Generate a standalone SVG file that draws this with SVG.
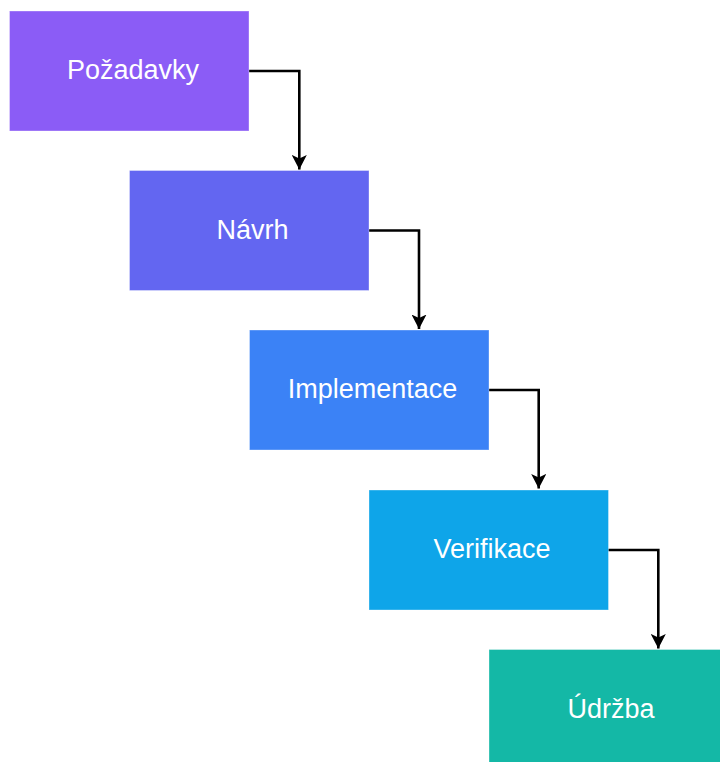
<svg xmlns="http://www.w3.org/2000/svg" width="720" height="762" viewBox="0 0 720 762">
  <style>
    .box { stroke: #ffffff; stroke-opacity: 0.35; stroke-width: 1; }
    .lbl { font-family: "Liberation Sans", Arial, Helvetica, sans-serif; font-size: 27px; fill: #ffffff; text-anchor: middle; }
    .conn { fill: none; stroke: #000000; stroke-width: 2.6; }
  </style>
  <defs>
    <marker id="arr" viewBox="0 0 15 15" refX="14.5" refY="7.5" markerWidth="15" markerHeight="15" markerUnits="userSpaceOnUse" orient="auto">
      <path d="M0,0 L14.5,7.5 L0,15 L3.5,7.5 Z" fill="#000000"/>
    </marker>
  </defs>
  <rect width="720" height="762" fill="#ffffff"/>
  <g id="connectors">
    <path class="conn" d="M249,71 H299.3 V169.5" marker-end="url(#arr)"/>
    <path class="conn" d="M369,230.5 H419 V329" marker-end="url(#arr)"/>
    <path class="conn" d="M488.5,390 H538.7 V488.5" marker-end="url(#arr)"/>
    <path class="conn" d="M608,550 H658.3 V648.5" marker-end="url(#arr)"/>
  </g>
  <g id="pozadavky">
    <rect class="box" x="9.5" y="11" width="239.5" height="120" fill="#8B5CF6"/>
    <text class="lbl" x="133" y="79">Požadavky</text>
  </g>
  <g id="navrh">
    <rect class="box" x="129.5" y="170.5" width="239.5" height="120" fill="#6366F1"/>
    <text class="lbl" x="252.5" y="238.5">Návrh</text>
  </g>
  <g id="implementace">
    <rect class="box" x="249.5" y="330" width="239.5" height="120" fill="#3B82F6"/>
    <text class="lbl" x="372.5" y="398">Implementace</text>
  </g>
  <g id="verifikace">
    <rect class="box" x="369" y="490" width="239.5" height="120" fill="#0EA5E9"/>
    <text class="lbl" x="492" y="558">Verifikace</text>
  </g>
  <g id="udrzba">
    <rect class="box" x="489" y="649.5" width="239.5" height="120" fill="#14B8A6"/>
    <text class="lbl" x="611" y="717.5">Údržba</text>
  </g>
</svg>
